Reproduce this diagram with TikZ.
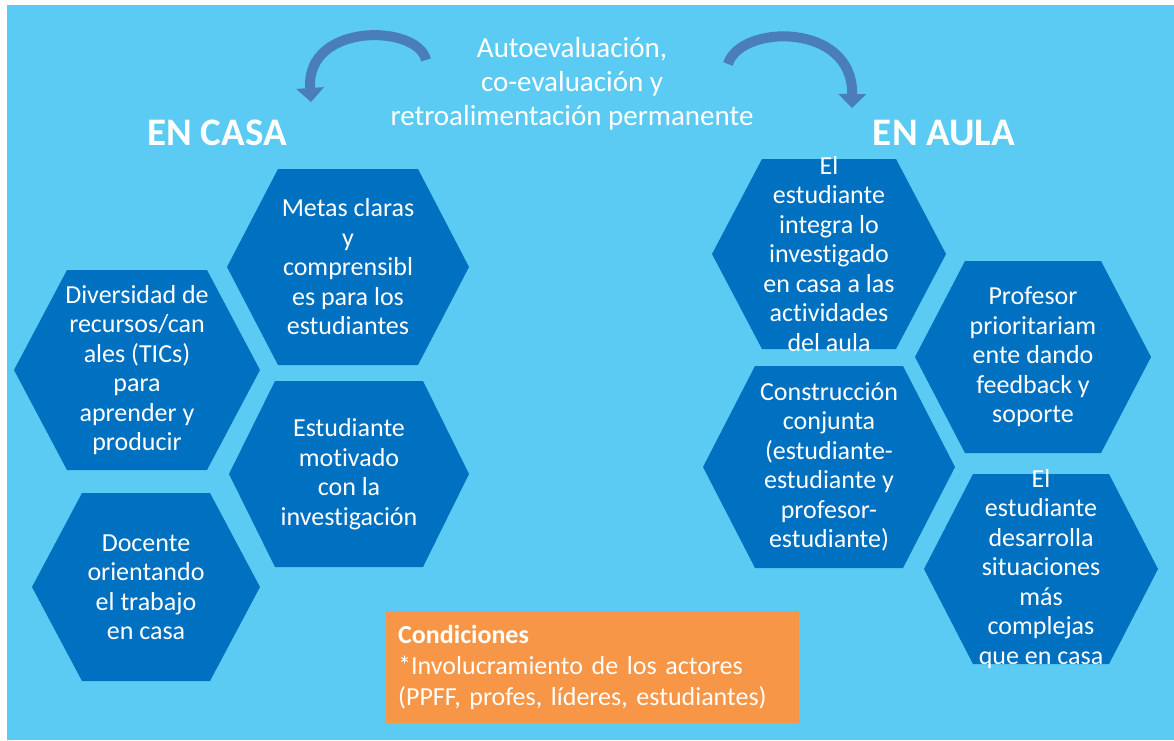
\documentclass[tikz,border=0pt]{standalone}
\usepackage{fontspec}
\defaultfontfeatures{Ligatures={NoCommon}}
\setmainfont{Carlito}
\usetikzlibrary{arrows.meta}
\definecolor{fondo}{HTML}{5BCBF3}
\definecolor{hexazul}{HTML}{0070C0}
\definecolor{naranja}{HTML}{F79646}
\definecolor{flecha}{HTML}{4A7EBB}
\tikzset{
  hexa/.style={fill=hexazul},
  hextexto/.style={text=white, align=center, font=\fontsize{26}{29.5}\selectfont},
  titulo/.style={text=white, font=\bfseries\fontsize{39}{46}\selectfont},
  curva/.style={line width=10pt, draw=flecha, -{Triangle[width=28pt,length=14pt,line width=0pt]}},
}

\begin{document}
\begin{tikzpicture}[x=1pt,y=-1pt]
       \useasboundingbox (0,0) rectangle (1174,740);
       \fill[fondo] (7,5) rectangle (1174,740);

       %hexagonos
       \foreach \cx/\cy/\w/\h/\d in {348/267/121/98/51, 137/370/123/100/53, 349/474/120/93/46, 146/587/114/94/50,
                                     829/254/117/95/50, 1033/357/118/96/50, 829/467/126/101/52, 1041/569/117/95/49}  {
       	\fill[hexa] (\cx-\w,\cy) -- (\cx-\w+\d,\cy-\h) -- (\cx+\w-\d,\cy-\h) -- (\cx+\w,\cy)
       	-- (\cx+\w-\d,\cy+\h) -- (\cx-\w+\d,\cy+\h) -- cycle;
       }

       \node (metas) at (348,267) [hextexto]{Metas claras\\y\\comprensibl\\es para los\\estudiantes};
       \node (diversidad) at (137,370) [hextexto]{Diversidad de\\recursos/can\\ales (TICs)\\para\\aprender y\\producir};
       \node (motivado) at (349,474) [hextexto]{Estudiante\\motivado\\con la\\investigación};
       \node (docente) at (146,587) [hextexto]{Docente\\orientando\\el trabajo\\en casa};

       \node (integra) at (829,254) [hextexto]{El\\estudiante\\integra lo\\investigado\\en casa a las\\actividades\\del aula};
       \node (profesor) at (1033,357) [hextexto]{Profesor\\prioritariam\\ente dando\\feedback y\\soporte};
       \node (construccion) at (829,467) [hextexto]{Construcción\\conjunta\\(estudiante-\\estudiante y\\profesor-\\estudiante)};
       \node (desarrolla) at (1041,569) [hextexto]{El\\estudiante\\desarrolla\\situaciones\\más\\complejas\\que en casa};

       \node (casa) at (217,133) [titulo]{EN CASA};
       \node (aula) at (944,133) [titulo]{EN AULA};
       \node (evaluacion) at (572,84) [text=white, align=center, font=\fontsize{29}{34}\selectfont]
             {Autoevaluación,\\co-evaluación y\\retroalimentación permanente};

       \node (condiciones) at (386,611) [anchor=north west, fill=naranja, text=white, align=left,
             minimum width=413pt, minimum height=112pt, inner xsep=12pt, text width=389pt,
             font=\fontsize{26}{31}\selectfont]
             {\textbf{Condiciones}\\{*}Involucramiento de los actores\\(PPFF, profes, líderes, estudiantes)};

       %flechas
       \coordinate (colaizq) at (426,60);
       \coordinate (puntaizq) at (311,102);
       \coordinate (colader) at (728,64);
       \coordinate (puntader) at (852,108);
       \draw[curva] (colaizq) .. controls (418,24) and (306,22) .. (puntaizq);
       \draw[curva] (colader) .. controls (740,24) and (853,22) .. (puntader);

\end{tikzpicture}
\end{document}
